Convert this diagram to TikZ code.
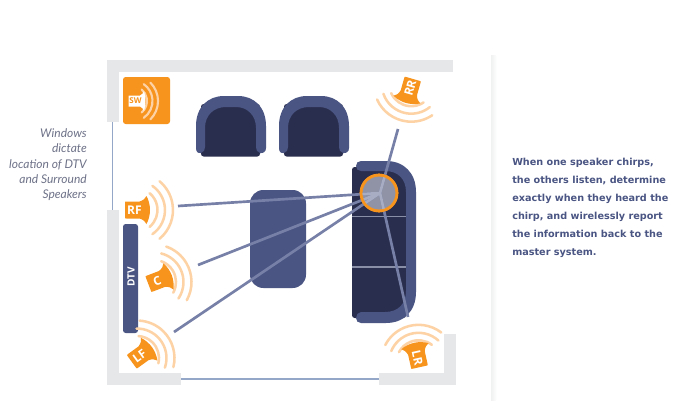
\documentclass[tikz,border=0pt]{standalone}
\usepackage{fontspec}
\setmainfont{Open Sans}
\newfontfamily\rightfont{DejaVu Sans}
\newfontfamily\leftfont{Lato}
\definecolor{wallc}{HTML}{E6E7E8}
\definecolor{winc}{HTML}{94A7C9}
\definecolor{orangec}{HTML}{F7941E}
\definecolor{arcc}{HTML}{FDD3A5}
\definecolor{bluec}{HTML}{4A5583}
\definecolor{darkc}{HTML}{2A2E4E}
\definecolor{linec}{HTML}{7781A8}
\definecolor{hubc}{HTML}{8F93A5}
\definecolor{hublinec}{HTML}{A8ADC4}
\definecolor{seamc}{HTML}{8A8FA8}
\definecolor{leftc}{HTML}{6E7288}
\tikzset{
  wall/.style={fill=wallc,draw=none},
  windowline/.style={draw=winc,line width=.9pt},
  wave/.style={draw=arcc,line width=1.9pt,line cap=round},
  spkbody/.style={fill=orangec,draw=none},
  spktext/.style={text=white,font=\bfseries\fontsize{9}{9}\selectfont,inner sep=0pt},
  ray/.style={draw=linec,line width=2pt},
  seat/.style={fill=bluec,draw=none},
  cushion/.style={fill=darkc,draw=none},
}
% #1 name, #2 x, #3 y, #4 rotation, #5 text rotation, #6 label, #7 forward shift of the body
\newcommand{\speaker}[7]{%
  \begin{scope}[shift={(#2,#3)},x=.75pt,y=.75pt,rotate=#4]
    \draw[wave] (-50:22) arc[start angle=-50,end angle=50,radius=16.5pt];
    \draw[wave] (-55:29.5) arc[start angle=-55,end angle=55,radius=22.1pt];
    \draw[wave] (-50:37.5) arc[start angle=-50,end angle=50,radius=28.1pt];
    \begin{scope}[xshift=#7*.75pt]
    \path[spkbody] (-9,-8.5) -- (4,-8.5) .. controls (7.5,-9.5) and (10,-11.5) .. (11,-14) .. controls (13.5,-9.5) and (14.5,-4) .. (14.5,0) .. controls (14.5,4) and (13.5,9.5) .. (11,14) .. controls (10,11.5) and (7.5,9.5) .. (4,8.5) -- (-9,8.5) .. controls (-10.5,8.5) and (-10.5,8.5) .. (-10.5,7) -- (-10.5,-7) .. controls (-10.5,-8.5) and (-10.5,-8.5) .. (-9,-8.5) -- cycle;
    \node[spktext,rotate=#5] (#1) at (-1,0) {#6};
    \end{scope}
  \end{scope}}
\begin{document}
\begin{tikzpicture}[x=.75pt,y=-.75pt]
\useasboundingbox (0,0) rectangle (673,418);
\fill[white] (0,0) rectangle (673,418);
% divider
\shade[left color=wallc!60,right color=white,draw=none] (491,55) rectangle (497,400);
% walls
\path[wall] (107,60) rectangle (453,72);
\path[wall] (107,60) rectangle (119,122);
\path[wall] (107,210) rectangle (119,385);
\path[wall] (107,373) rectangle (181,385);
\path[wall] (379,373) rectangle (456,385);
\path[wall] (444,334) rectangle (456,385);
\coordinate (w1) at (112.5,122);
\coordinate (w2) at (112.5,210);
\coordinate (w3) at (181,379);
\coordinate (w4) at (379,379);
\draw[windowline] (w1) -- (w2);
\draw[windowline] (w3) -- (w4);
% SW
\path[fill=orangec,rounded corners=2pt] (123,77) rectangle (170,124);
\begin{scope}[shift={(132,101)},x=.75pt,y=.75pt]
  \draw[wave,line width=1.6pt] (-50:15) arc[start angle=-50,end angle=50,radius=11.25pt];
  \draw[wave,line width=1.6pt] (-55:20.5) arc[start angle=-55,end angle=55,radius=15.4pt];
  \draw[wave,line width=1.6pt] (-45:26) arc[start angle=-45,end angle=45,radius=19.5pt];
  \path[fill=white] (-3.5,-5.5) -- (8,-5.5) .. controls (10,-6.5) and (11.5,-8) .. (12,-10) .. controls (13,-6) and (13.5,-3) .. (13.5,0) .. controls (13.5,3) and (13,6) .. (12,10) .. controls (11.5,8) and (10,6.5) .. (8,5.5) -- (-3.5,5.5) -- cycle;
  \node[text=orangec,font=\bfseries\fontsize{6}{6}\selectfont,inner sep=0pt] (sw) at (3.5,0) {SW};
\end{scope}
% armchairs
\foreach \dx in {0,83}{
\begin{scope}[xshift=\dx*.75pt]
  \path[cushion,rounded corners=2pt] (201,104) -- (260,104) -- (260,156.5) -- (201,156.5) -- cycle;
  \path[seat] (196,148) -- (196,126) .. controls (196,107) and (208,96) .. (224,96) -- (238,96) .. controls (254,96) and (266,107) .. (266,126) -- (266,148) .. controls (266,152) and (263,153.5) .. (260,153) .. controls (257,152) and (256,150) .. (256,147) -- (256,128) .. controls (256,115) and (247,107) .. (236,107) -- (226,107) .. controls (214,107) and (205,115) .. (205,128) -- (205,147) .. controls (205,150) and (204,152) .. (201,153) .. controls (198,153.5) and (196,152) .. (196,148) -- cycle;
\end{scope}}
% ottoman
\path[seat,rounded corners=10pt] (250,190) rectangle (306,288);
% sofa
\path[cushion,rounded corners=2pt] (352,167) rectangle (406,318);
\path[seat] (356,166) .. controls (356,163) and (358,161) .. (361,161) -- (386,161) .. controls (404,161) and (416,173) .. (416,192) -- (416,292) .. controls (416,311) and (404,323) .. (386,323) -- (361,323) .. controls (358,323) and (356,321) .. (356,318) .. controls (356,315) and (358,312) .. (361,312) -- (385,312) .. controls (398,312) and (406,304) .. (406,291) -- (406,192) .. controls (406,179) and (398,171) .. (385,171) -- (361,171) .. controls (358,171) and (356,169) .. (356,166) -- cycle;
\draw[seamc,line width=.7pt] (352,216) -- (406,216);
\draw[seamc,line width=1.1pt] (352,267) -- (406,267);
% DTV
\path[seat,rounded corners=2pt] (123,224) rectangle (138,333);
\node[text=white,font=\bfseries\fontsize{7.5}{7.5}\selectfont,rotate=90,inner sep=0pt] (dtv) at (131,277) {DTV};
% speakers
\speaker{rf}{135.5}{210}{0}{0}{RF}{0}
\speaker{c}{154}{282}{21}{21}{C}{4.5}
\speaker{lf}{137}{358}{36}{36}{LF}{4}
\speaker{rr}{411.3}{84.2}{-106}{74}{RR}{5}
\speaker{lr}{418.5}{362.3}{102.6}{-77.4}{LR}{5.5}
% listening position
\node[circle,draw=orangec,fill=hubc,line width=2pt,minimum size=27pt,inner sep=0pt] (hub) at (379,193) {};
\coordinate (hc) at (380,193);
\coordinate (erf) at (178,206);
\coordinate (ec) at (198,265);
\coordinate (elf) at (174,332);
\coordinate (err) at (398,129);
\coordinate (elr) at (408,317);
\foreach \e in {erf,ec,elf,err,elr}{\draw[ray] (\e) -- (hc);}
\begin{scope}
  \clip (379,193) circle[radius=13.2pt];
  \foreach \e in {erf,ec,elf,err,elr}{\draw[ray,draw=hublinec] (\e) -- (hc);}
\end{scope}
\node[draw=orangec,line width=2pt,circle,minimum size=27pt,inner sep=0pt] (ring) at (379,193) {};
% texts
\node[anchor=north east,align=right,inner sep=0pt,text=leftc,font=\leftfont\itshape\fontsize{9}{11.6}\selectfont] (ltext) at (87,128) {Windows\\dictate\\location of DTV\\and Surround\\Speakers};
\node[anchor=north west,align=left,inner sep=0pt,text=bluec,font=\rightfont\bfseries\fontsize{7.25}{13.5}\selectfont] (rtext) at (512,158) {When one speaker chirps,\\the others listen, determine\\exactly when they heard the\\chirp, and wirelessly report\\the information back to the\\master system.};
\end{tikzpicture}
\end{document}
